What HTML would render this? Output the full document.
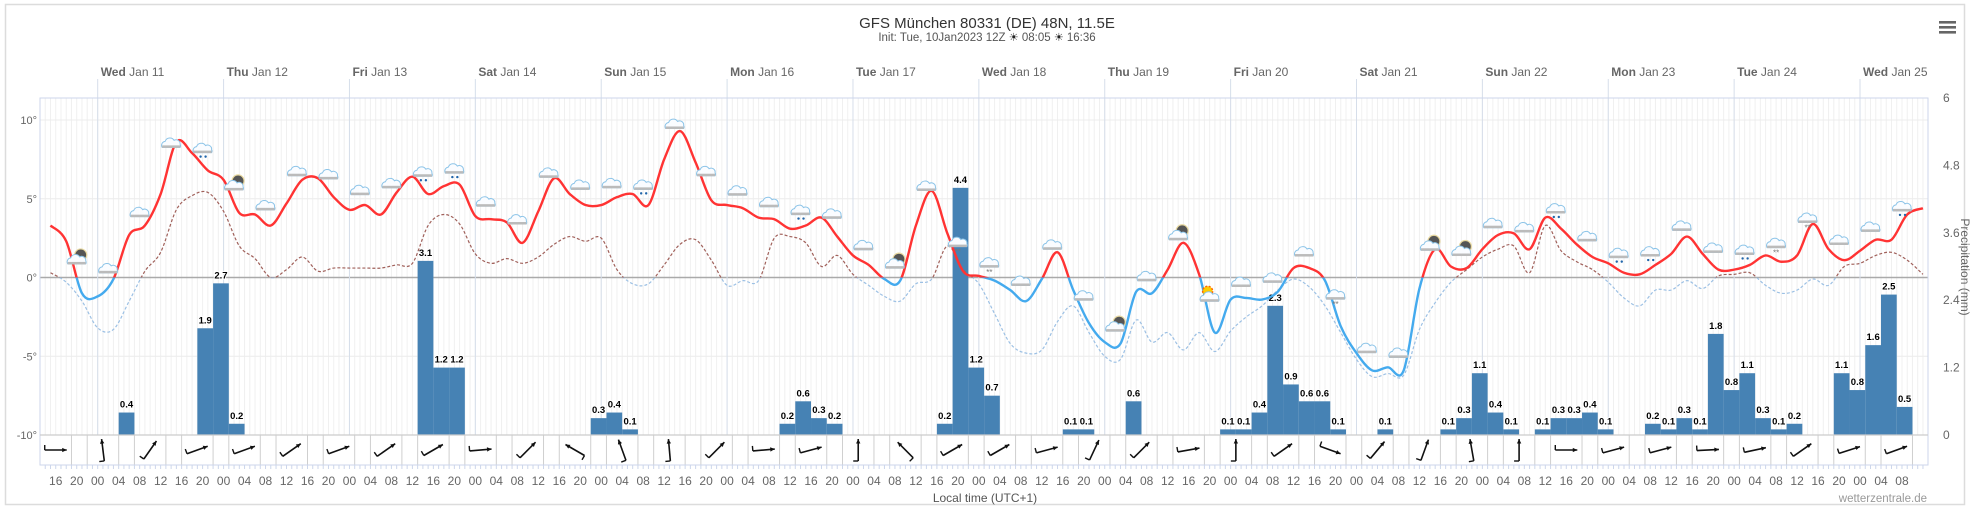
<!DOCTYPE html>
<html><head><meta charset="utf-8"><style>
html,body{margin:0;padding:0;background:#fff;}
svg{display:block;font-family:"Liberation Sans","DejaVu Sans",sans-serif;}
</style></head><body>
<svg id="chart" width="1970" height="511" viewBox="0 0 1970 511" xmlns="http://www.w3.org/2000/svg">
<rect x="5.5" y="4.5" width="1959" height="500" fill="#fff" stroke="#dcdcdc" stroke-width="1.5"/>
<text x="987" y="28" text-anchor="middle" font-size="15" fill="#333">GFS München 80331 (DE) 48N, 11.5E</text>
<text x="987" y="41" text-anchor="middle" font-size="11.5" fill="#555">Init: Tue, 10Jan2023 12Z <tspan font-size="11" fill="#222">☀</tspan> 08:05 <tspan font-size="11" fill="#222">☀</tspan> 16:36</text>
<g><rect x="1939" y="21" width="17" height="2.6" fill="#666"/><rect x="1939" y="26" width="17" height="2.6" fill="#666"/><rect x="1939" y="31" width="17" height="2.6" fill="#666"/></g>
<g id="grid"></g>
<g id="bars"></g>
<g id="lines"></g>
<g id="icons"></g>
<g id="wind"></g>
<g id="axes"></g>
<text x="985" y="502" text-anchor="middle" font-size="12" fill="#555">Local time (UTC+1)</text>
<text x="1927" y="502" text-anchor="end" font-size="11.5" fill="#999">wetterzentrale.de</text>
<text transform="translate(1961,267) rotate(90)" text-anchor="middle" font-size="12" fill="#666">Precipitation (mm)</text>
</svg>
<script>
const precip = [
0,0,0,0,0,0.4,0,0,0,0,
1.9,2.7,0.2,0,0,0,0,0,0,0,
0,0,0,0,3.1,1.2,1.2,0,0,0,
0,0,0,0,0,0.3,0.4,0.1,0,0,
0,0,0,0,0,0,0,0.2,0.6,0.3,
0.2,0,0,0,0,0,0,0.2,4.4,1.2,
0.7,0,0,0,0,0.1,0.1,0,0,0.6,
0,0,0,0,0,0.1,0.1,0.4,2.3,0.9,
0.6,0.6,0.1,0,0,0.1,0,0,0,0.1,
0.3,1.1,0.4,0.1,0,0.1,0.3,0.3,0.4,0.1,
0,0,0.2,0.1,0.3,0.1,1.8,0.8,1.1,0.3,
0.1,0.2,0,0,1.1,0.8,1.6,2.5,0.5,0];
const temp = [
3.3,2.3,-1.0,-1.2,-0.1,2.7,3.3,5.3,8.6,7.9, 6.8,6.2,4.1,4.0,3.3,4.7,6.2,6.3,5.1,4.3, 4.6,4.0,5.4,6.4,5.3,5.8,5.9,3.9,3.7,3.5,
2.2,4.2,6.3,5.3,4.6,4.6,5.1,5.3,4.6,7.5, 9.3,7.3,4.9,4.6,4.4,3.8,3.7,3.1,3.3,3.8, 2.6,1.4,0.8,-0.1,-0.2,3.3,5.5,2.8,0.4,0.1,
-0.2,-0.8,-1.5,-0.1,1.6,-0.8,-2.9,-4.1,-4.2,-0.9, -1.0,0.5,2.2,0.2,-3.5,-1.4,-1.3,-1.4,-0.9,0.6, 0.6,-0.2,-3.1,-4.8,-5.9,-5.7,-5.9,-0.7,1.8,0.7,
0.6,1.8,2.7,2.8,1.8,3.8,3.1,2.1,1.3,0.9, 0.3,0.2,0.8,1.5,2.6,1.5,0.5,0.5,0.8,1.4, 1.0,1.4,3.4,1.8,1.1,1.7,2.4,2.4,4.0,4.4];
const dew = [
0.3,-0.3,-1.5,-3.2,-3.3,-1.5,0.4,1.6,4.3,5.2, 5.4,4.2,2.0,1.2,0.0,0.5,1.3,0.4,0.6,0.6, 0.6,0.6,0.8,0.9,3.3,4.0,3.4,1.5,0.9,1.2,
0.9,1.3,2.1,2.6,2.3,2.5,0.5,-0.4,-0.4,0.8, 2.1,2.4,1.1,-0.5,-0.2,-0.2,2.5,2.6,2.2,0.7, 1.4,0.2,-0.5,-1.2,-1.5,-0.4,-0.1,2.0,0.5,-0.4,
-2.3,-4.2,-4.8,-4.6,-2.8,-1.8,-3.5,-5.0,-5.2,-2.7, -4.1,-3.5,-4.6,-3.5,-4.7,-3.4,-2.5,-1.8,-0.8,-0.1, -0.6,-1.8,-3.5,-5.2,-6.3,-6.1,-6.2,-3.3,-1.6,-0.3,
0.5,1.3,1.8,2.0,0.3,3.3,1.7,1.0,0.5,-0.3, -1.3,-1.8,-0.8,-0.8,-0.2,-0.7,0.1,0.2,0.3,-0.5, -1.0,-0.8,-0.1,-0.5,0.7,0.9,1.4,1.6,1.1,0.2];
const windDir = [0,-97,-55,-20,-20,-35,-20,-35,-30,-5, -45,-150,-110,-95,-45,-5,-15,-90,-135,-30,
 -30,-15,-65,-45,-10,-90,-35,20,-50,-70, -100,-90,0,-15,-15,-3,-12,-35,-18,-20];
const iconKinds = "mcccrmcccccrrcccccrccccrccmcsscccmcmucccsccmmccrcrrccrssccrrr";
const dayNames = ["Wed","Thu","Fri","Sat","Sun","Mon","Tue","Wed","Thu","Fri","Sat","Sun","Mon","Tue","Wed"];
const dayDates = ["Jan 11","Jan 12","Jan 13","Jan 14","Jan 15","Jan 16","Jan 17","Jan 18","Jan 19","Jan 20","Jan 21","Jan 22","Jan 23","Jan 24","Jan 25"];
const tempTicks = [10,5,0,-5,-10];
const precipTicks = [6,4.8,3.6,2.4,1.2,0];

const NS="http://www.w3.org/2000/svg";
const X0=40, X1=1928, PT=98, PB=435;
const xT = t => X0 + (t+11)*5.245;
const yT = v => 277.5 - v*15.75;
const yP = p => 435 - p*56.17;
const tempTime = i => -9 + 3*i;
const barTime = i => -11 + 3*i;
const windTime = i => -8 + 9*i;
const iconTime = i => -4 + 6*i;
function mk(tag, attrs, parent){const e=document.createElementNS(NS,tag);for(const k in attrs)e.setAttribute(k,attrs[k]);parent.appendChild(e);return e;}
const grid=document.getElementById('grid'), bars=document.getElementById('bars'), lines=document.getElementById('lines'),
 icons=document.getElementById('icons'), wind=document.getElementById('wind'), axes=document.getElementById('axes');

for(let t=-10;t<349;t++){
  const l=mk('line',{x1:xT(t),x2:xT(t),y1:PT,y2:PB,stroke:'#f0f0f0','stroke-width':1},grid);
  
  
}
tempTicks.forEach(v=>{
  const l=mk('line',{x1:X0,x2:X1,y1:yT(v),y2:yT(v),stroke:v===0?'#aaaaaa':'#ececec','stroke-width':v===0?1.5:1},grid);
  
  
  const tx=mk('text',{x:37,y:yT(v)+4,'text-anchor':'end','font-size':11,fill:'#666'},axes);
  tx.textContent=v+'°';
  
  
});
precipTicks.forEach(v=>{
  const tx=mk('text',{x:1943,y:yP(v)+4,'font-size':12,fill:'#666'},axes);
  tx.textContent=String(v);
  
  
});
dayNames.forEach((d,i)=>{
  const x=xT(24*i);
  const l=mk('line',{x1:x,x2:x,y1:79,y2:PB,stroke:'#d6deea','stroke-width':1},grid);
  
  
  const tx=mk('text',{x:x+3,y:76,'font-size':12,fill:'#666'},axes);
  tx.innerHTML='<tspan font-weight="bold">'+d+'</tspan> '+dayDates[i];
  
  
});
const fr=mk('rect',{x:X0,y:PT,width:X1-X0,height:465-PT,fill:'none',stroke:'#ccd6eb','stroke-width':1},axes);


const wl=mk('line',{x1:X0,x2:X1,y1:PB,y2:PB,stroke:'#cccccc','stroke-width':1.2},axes);


for(let t=-10;t<349;t++){
  const l=mk('line',{x1:xT(t),x2:xT(t),y1:465,y2:469,stroke:'#ccd6eb'},axes);
  
  
}
for(let t=-8;t<345;t+=4){
  const h=((t%24)+24)%24;
  const tx=mk('text',{x:xT(t),y:485,'text-anchor':'middle','font-size':12,fill:'#666'},axes);
  tx.textContent=(h<10?'0':'')+h;
  
  
}
precip.forEach((p,i)=>{
  if(p<=0) return;
  const x=xT(barTime(i)), w=xT(barTime(i)+3)-x;
  const r=mk('rect',{x:x,y:yP(p),width:w,height:PB-yP(p),fill:'#4682b4'},bars);
  
  
  const tx=mk('text',{x:x+w/2,y:yP(p)-5,'text-anchor':'middle','font-size':9.5,'font-weight':'bold',fill:'#000',stroke:'#fff','stroke-width':2,'paint-order':'stroke'},bars);
  tx.textContent=p.toFixed(1);
  
  
});
function smooth(vals){
  const pts=vals.map((v,i)=>[xT(tempTime(i)),yT(v)]);
  let d='M'+pts[0][0]+','+pts[0][1];
  for(let i=0;i<pts.length-1;i++){
    const p0=pts[Math.max(0,i-1)],p1=pts[i],p2=pts[i+1],p3=pts[Math.min(pts.length-1,i+2)];
    const c1=[p1[0]+(p2[0]-p0[0])/6,p1[1]+(p2[1]-p0[1])/6], c2=[p2[0]-(p3[0]-p1[0])/6,p2[1]-(p3[1]-p1[1])/6];
    d+=' C'+c1[0]+','+c1[1]+' '+c2[0]+','+c2[1]+' '+p2[0]+','+p2[1];
  }
  return d;
}
const defs=mk('defs',{},lines);
const ca=mk('clipPath',{id:'above'},defs); mk('rect',{x:X0,y:PT-20,width:X1-X0,height:yT(0)-PT+20},ca);
const cb=mk('clipPath',{id:'below'},defs); mk('rect',{x:X0,y:yT(0),width:X1-X0,height:PB-yT(0)},cb);
const dd=smooth(dew), td=smooth(temp);
[['dew-line-above','#a0605a','url(#above)'],['dew-line-below','#9cc0e4','url(#below)']].forEach(a=>{
  const p=mk('path',{d:dd,fill:'none',stroke:a[1],'stroke-width':1.2,'stroke-dasharray':'3,2','clip-path':a[2]},lines);
  
  
});
[['temperature-line-above','#ff3333','url(#above)'],['temperature-line-below','#44aaee','url(#below)']].forEach(a=>{
  const p=mk('path',{d:td,fill:'none',stroke:a[1],'stroke-width':2.4,'clip-path':a[2]},lines);
  
  
});
function tempAt(t){const f=(t+9)/3;const i=Math.max(0,Math.min(temp.length-2,Math.floor(f)));const r=f-i;return temp[i]*(1-r)+temp[i+1]*r;}
for(let i=0;i<iconKinds.length;i++){
  const t=iconTime(i); if(t>346) break;
  const cx=xT(t), cy=yT(tempAt(t))-16, k=iconKinds[i];
  const g=mk('g',{},icons);
  
  
  if(k==='m'){mk('circle',{cx:cx+4,cy:cy-5,r:6,fill:'#555',stroke:'#e8d9a0','stroke-width':1.2},g);}
  if(k==='u'){mk('circle',{cx:cx-2,cy:cy-6,r:5,fill:'#ffcc00',stroke:'#ff6600','stroke-width':1.5,'stroke-dasharray':'2,1.5'},g);}
  mk('path',{d:`M${cx-9},${cy+4} a4,4 0 0 1 3,-6 a5,5 0 0 1 9,-1 a4,4 0 0 1 6,4 a3,3 0 0 1 0,3 z`,fill:'#fafcff',stroke:'#8cc4e8','stroke-width':1},g);
  mk('rect',{x:cx-9,y:cy+2,width:18,height:2.5,fill:'#bbb'},g);
  if(k==='r'){mk('circle',{cx:cx-2,cy:cy+8,r:1.2,fill:'#2266aa'},g);mk('circle',{cx:cx+3,cy:cy+8,r:1.2,fill:'#2266aa'},g);}
  if(k==='s'){const s=mk('text',{x:cx,y:cy+12,'text-anchor':'middle','font-size':8,fill:'#777'},g);s.textContent='**';}
}
for(let t=-11;t<349;t+=3){
  if((t+8)%9===0) continue;
  const l=mk('line',{x1:xT(t),x2:xT(t),y1:PB,y2:465,stroke:'#cfcfcf'},wind);
  
  
}
windDir.forEach((a,i)=>{
  const cx=xT(windTime(i)), cy=450, r=a*Math.PI/180, L=11;
  const dx=Math.cos(r)*L, dy=Math.sin(r)*L;
  const g=mk('g',{},wind);
  
  
  mk('line',{x1:cx-dx,y1:cy-dy,x2:cx+dx,y2:cy+dy,stroke:'#111','stroke-width':1.6},g);
  const hx=cx+dx,hy=cy+dy,b=5;
  const a1=r+Math.PI-0.45,a2=r+Math.PI+0.45;
  mk('path',{d:`M${hx},${hy} L${hx+Math.cos(a1)*b},${hy+Math.sin(a1)*b} L${hx+Math.cos(a2)*b},${hy+Math.sin(a2)*b} Z`,fill:'#111'},g);
  const bx=cx-dx,by=cy-dy,pa=r-Math.PI/2;
  mk('line',{x1:bx,y1:by,x2:bx+Math.cos(pa)*5,y2:by+Math.sin(pa)*5,stroke:'#111','stroke-width':1.4},g);
});
</script>
</body></html>
